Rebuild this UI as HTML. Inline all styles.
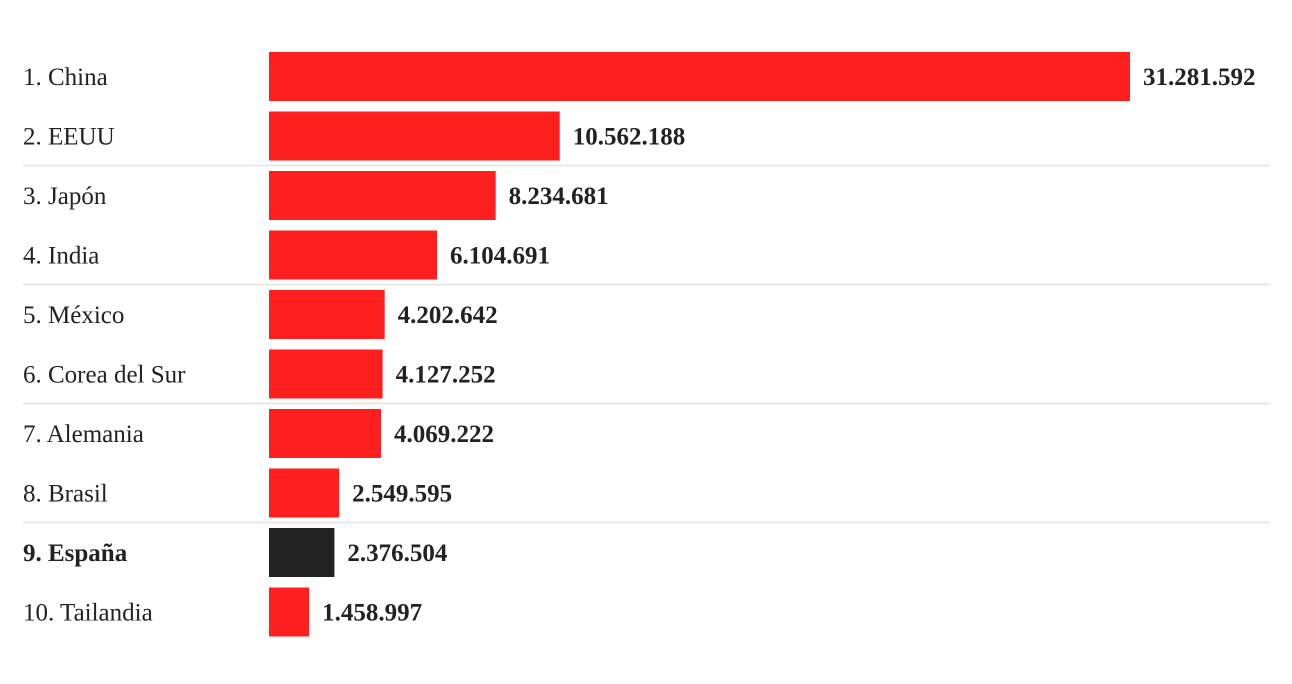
<!DOCTYPE html>
<html><head><meta charset="utf-8"><style>
body{margin:0;background:#fff;width:1292px;height:679px;overflow:hidden}
svg text{font-family:"Liberation Serif",serif;font-size:25px;fill:#222}
</style></head><body>
<svg id="chart" width="1292" height="679"></svg>
<script>
const categories=["1. China","2. EEUU","3. Japón","4. India","5. México","6. Corea del Sur","7. Alemania","8. Brasil","9. España","10. Tailandia"];
const values=[31281592,10562188,8234681,6104691,4202642,4127252,4069222,2549595,2376504,1458997];
const highlight=["9. España"];
const svg=document.getElementById('chart');
const NS='http://www.w3.org/2000/svg';
const x0=269,x1=1130,maxV=31281592;
const xs=v=>(v/maxV)*(x1-x0);
const rowY=i=>52+i*59.5;
const fmt=v=>v.toLocaleString('en-US').replace(/,/g,'.');
for(let i=1;i<categories.length;i+=2){
  if(i+1>=categories.length)break;
  const l=document.createElementNS(NS,'line');
  
  
  const y=rowY(i)+54;
  l.setAttribute('x1',23);l.setAttribute('x2',1270);l.setAttribute('y1',y);l.setAttribute('y2',y);
  l.setAttribute('stroke','#e2e2e2');l.setAttribute('stroke-width','1.5');
  svg.appendChild(l);
}
categories.forEach((c,i)=>{
  const y=rowY(i),hl=highlight.includes(c);
  const t=document.createElementNS(NS,'text');
  
  
  t.setAttribute('x',23);t.setAttribute('y',y+33);
  if(hl)t.setAttribute('font-weight','bold');
  t.textContent=c;svg.appendChild(t);
  const r=document.createElementNS(NS,'rect');
  
  
  const w=xs(values[i]);
  r.setAttribute('x',x0);r.setAttribute('y',y);r.setAttribute('width',w);r.setAttribute('height',49);
  r.setAttribute('fill',hl?'#222':'#ff1f1f');svg.appendChild(r);
  const v=document.createElementNS(NS,'text');
  
  
  v.setAttribute('x',x0+w+13);v.setAttribute('y',y+33);v.setAttribute('font-weight','bold');
  v.textContent=fmt(values[i]);svg.appendChild(v);
});
</script>
</body></html>
